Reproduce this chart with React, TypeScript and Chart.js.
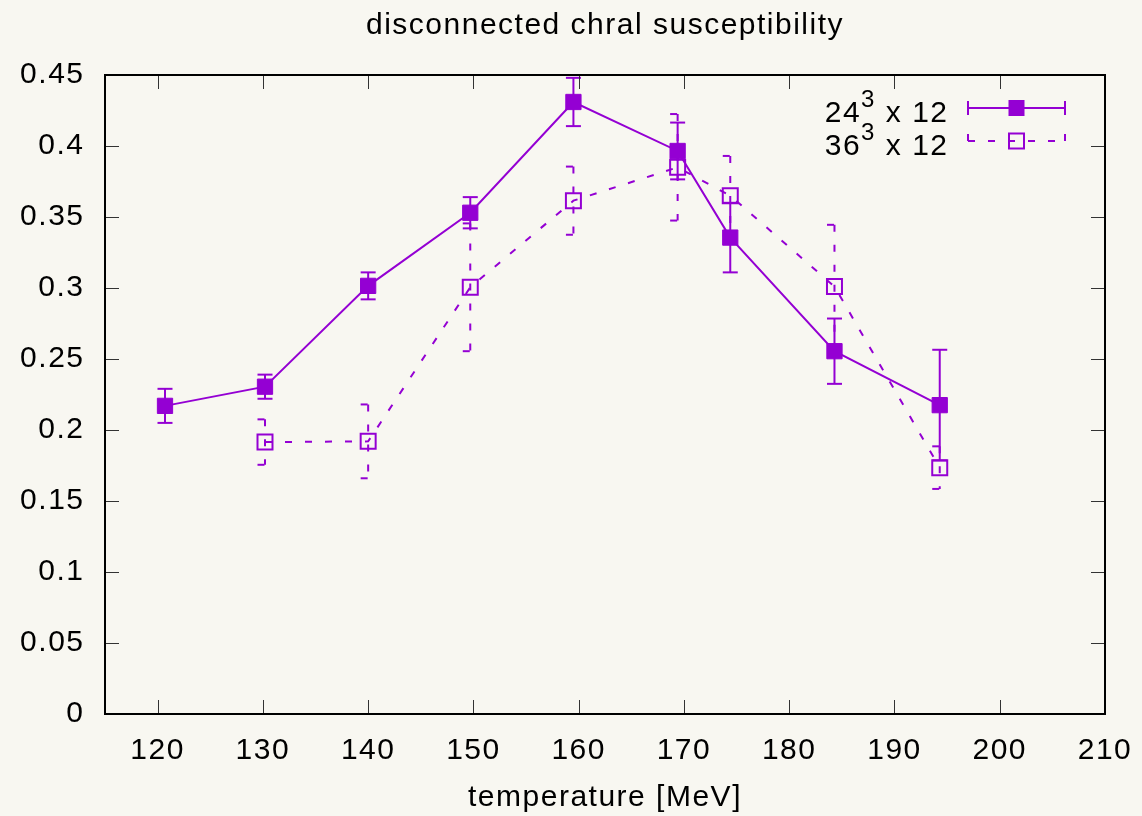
import React, { useEffect, useRef } from 'react';
import { Chart, registerables } from 'chart.js';

Chart.register(...registerables);

const PURPLE = '#9400d3';
const BG = '#f8f7f1';
const FONT = '"Liberation Sans", Arial, Helvetica, sans-serif';
const FONT_SIZE = 30;
const LETTER_SPACING = '1.5px';

const TITLE = 'disconnected chral susceptibility';
const X_LABEL = 'temperature [MeV]';

// 24^3 x 12 lattice
const temps24 = [120.7, 130.2, 140.0, 149.7, 159.5, 169.4, 174.4, 184.3, 194.3];
const chi24 = [0.217, 0.2305, 0.3015, 0.353, 0.431, 0.3965, 0.3355, 0.2555, 0.2175];
const err24 = [0.012, 0.0085, 0.0095, 0.011, 0.017, 0.020, 0.0245, 0.023, 0.039];

// 36^3 x 12 lattice
const temps36 = [130.2, 140.0, 149.7, 159.5, 169.4, 174.4, 184.3, 194.3];
const chi36 = [0.1915, 0.192, 0.3005, 0.3615, 0.385, 0.365, 0.301, 0.1735];
const err36 = [0.016, 0.026, 0.045, 0.024, 0.0375, 0.028, 0.0435, 0.015];

const xTicks = [120, 130, 140, 150, 160, 170, 180, 190, 200, 210];
const xTickLabels = ['120', '130', '140', '150', '160', '170', '180', '190', '200', '210'];
const yTicks = [0, 0.05, 0.1, 0.15, 0.2, 0.25, 0.3, 0.35, 0.4, 0.45];
const yTickLabels = ['0', '0.05', '0.1', '0.15', '0.2', '0.25', '0.3', '0.35', '0.4', '0.45'];

const legendEntries = [
  { base: '24', sup: '3', rest: ' x 12', dash: [] as number[], filled: true },
  { base: '36', sup: '3', rest: ' x 12', dash: [7, 13], filled: false },
];

const DASH = [7, 13];
const CAP = 7.5;

function seg(ctx: CanvasRenderingContext2D, x1: number, y1: number, x2: number, y2: number) {
  ctx.beginPath();
  ctx.moveTo(x1, y1);
  ctx.lineTo(x2, y2);
  ctx.stroke();
}

const bgPlugin = {
  id: 'bgFill',
  beforeLayout(chart: any) {
    chart.ctx.letterSpacing = LETTER_SPACING;
  },
  beforeDraw(chart: any) {
    const ctx = chart.ctx;
    ctx.letterSpacing = LETTER_SPACING;
    ctx.save();
    ctx.fillStyle = BG;
    ctx.fillRect(0, 0, chart.width, chart.height);
    ctx.restore();
  },
};

const errorBarPlugin = {
  id: 'errorBars',
  beforeDatasetsDraw(chart: any) {
    const { ctx } = chart;
    const xs = chart.scales.x;
    const ys = chart.scales.y;
    const series = [
      { t: temps24, v: chi24, e: err24, dash: [] as number[] },
      { t: temps36, v: chi36, e: err36, dash: DASH },
    ];
    ctx.save();
    ctx.strokeStyle = PURPLE;
    ctx.lineWidth = 2;
    for (const s of series) {
      ctx.setLineDash(s.dash);
      s.t.forEach((t, i) => {
        const px = xs.getPixelForValue(t);
        const yHi = ys.getPixelForValue(s.v[i] + s.e[i]);
        const yLo = ys.getPixelForValue(s.v[i] - s.e[i]);
        seg(ctx, px, yHi, px, yLo);
        seg(ctx, px - CAP, yLo, px + CAP, yLo);
        seg(ctx, px - CAP, yHi, px + CAP, yHi);
      });
    }
    ctx.restore();
  },
};

const framePlugin = {
  id: 'frameTicks',
  afterDraw(chart: any) {
    const { ctx, chartArea } = chart;
    const { left, right, top, bottom } = chartArea;
    const xs = chart.scales.x;
    const ys = chart.scales.y;
    const TL = 14;
    ctx.save();
    ctx.strokeStyle = '#333';
    ctx.lineWidth = 1;
    ctx.setLineDash([]);
    for (const v of xTicks) {
      const px = Math.round(xs.getPixelForValue(v)) + 0.5;
      seg(ctx, px, bottom, px, bottom - TL);
      seg(ctx, px, top, px, top + TL);
    }
    for (const v of yTicks) {
      const py = Math.round(ys.getPixelForValue(v)) + 0.5;
      seg(ctx, left, py, left + TL, py);
      seg(ctx, right, py, right - TL, py);
    }
    ctx.strokeStyle = '#000';
    ctx.lineWidth = 2;
    ctx.strokeRect(left, top, right - left, bottom - top);

    // legend
    const sampleL = right - 137;
    const sampleR = right - 40;
    const sampleC = (sampleL + sampleR) / 2;
    const textRight = right - 158;
    legendEntries.forEach((en, k) => {
      const cy = top + 33 + k * 33;
      ctx.fillStyle = '#000';
      ctx.textBaseline = 'alphabetic';
      ctx.textAlign = 'left';
      const mainFont = `${FONT_SIZE}px ${FONT}`;
      const supFont = `${Math.round(FONT_SIZE * 0.8)}px ${FONT}`;
      ctx.font = mainFont;
      const w1 = ctx.measureText(en.base).width;
      const w3 = ctx.measureText(en.rest).width;
      ctx.font = supFont;
      const w2 = ctx.measureText(en.sup).width;
      const total = w1 + w2 + w3;
      let x0 = textRight + 1.5 - total;
      const base = cy + 14;
      ctx.font = mainFont;
      ctx.fillText(en.base, x0, base);
      x0 += w1;
      ctx.font = supFont;
      ctx.fillText(en.sup, x0, base - 15);
      x0 += w2;
      ctx.font = mainFont;
      ctx.fillText(en.rest, x0, base);

      ctx.strokeStyle = PURPLE;
      ctx.lineWidth = 2;
      ctx.setLineDash(en.dash);
      seg(ctx, sampleL, cy, sampleR, cy);
      seg(ctx, sampleL, cy - 7, sampleL, cy + 7);
      seg(ctx, sampleR, cy - 7, sampleR, cy + 7);
      ctx.setLineDash([]);
      if (en.filled) {
        ctx.fillStyle = PURPLE;
        ctx.fillRect(sampleC - 8, cy - 8, 16, 16);
      } else {
        ctx.strokeRect(sampleC - 7.5, cy - 7.5, 15, 15);
      }
    });
    ctx.restore();
  },
};

export default function App() {
  const canvasRef = useRef<HTMLCanvasElement | null>(null);

  useEffect(() => {
    const canvas = canvasRef.current;
    if (!canvas) return;
    const chart = new Chart(canvas, {
      type: 'line',
      data: {
        datasets: [
          {
            label: '24^3 x 12',
            data: temps24.map((x, i) => ({ x, y: chi24[i] })),
            borderColor: PURPLE,
            backgroundColor: PURPLE,
            borderWidth: 2,
            tension: 0,
            fill: false,
            pointStyle: 'rect',
            pointRadius: 10.8,
            pointHoverRadius: 10.8,
            pointBorderWidth: 1,
            pointBackgroundColor: PURPLE,
            pointBorderColor: PURPLE,
          },
          {
            label: '36^3 x 12',
            data: temps36.map((x, i) => ({ x, y: chi36[i] })),
            borderColor: PURPLE,
            backgroundColor: 'rgba(0,0,0,0)',
            borderWidth: 2,
            borderDash: DASH,
            tension: 0,
            fill: false,
            pointStyle: 'rect',
            pointRadius: 10.6,
            pointHoverRadius: 10.6,
            pointBorderWidth: 2,
            pointBackgroundColor: 'rgba(0,0,0,0)',
            pointBorderColor: PURPLE,
          },
        ],
      },
      options: {
        responsive: false,
        animation: false,
        devicePixelRatio: 1,
        events: [],
        layout: { padding: { left: 0, right: 37, top: 0, bottom: 0 } },
        plugins: {
          legend: { display: false },
          tooltip: { enabled: false },
          title: {
            display: true,
            text: TITLE,
            fullSize: false,
            color: '#000',
            font: { family: FONT, size: FONT_SIZE, weight: 'normal' },
            padding: { top: 7.6, bottom: 31.4 },
          },
        },
        scales: {
          x: {
            type: 'linear',
            min: 115,
            max: 210,
            afterBuildTicks: (scale: any) => {
              scale.ticks = xTicks.map((v) => ({ value: v }));
            },
            afterFit: (scale: any) => {
              scale.height = 102;
              scale.paddingLeft = 0;
              scale.paddingRight = 0;
            },
            grid: { display: false, drawTicks: false, tickLength: 0 },
            border: { display: false },
            ticks: {
              color: '#000',
              padding: 19,
              maxRotation: 0,
              autoSkip: false,
              font: { family: FONT, size: FONT_SIZE },
              callback: (_v: any, i: number) => xTickLabels[i],
            },
            title: {
              display: true,
              text: X_LABEL,
              color: '#000',
              font: { family: FONT, size: FONT_SIZE },
              padding: { top: 0, bottom: 0 },
            },
          },
          y: {
            type: 'linear',
            min: 0,
            max: 0.45,
            afterBuildTicks: (scale: any) => {
              scale.ticks = yTicks.map((v) => ({ value: v }));
            },
            afterFit: (scale: any) => {
              scale.width = 105;
              scale.paddingTop = 0;
              scale.paddingBottom = 0;
            },
            grid: { display: false, drawTicks: false, tickLength: 0 },
            border: { display: false },
            ticks: {
              color: '#000',
              padding: 20.5,
              autoSkip: false,
              font: { family: FONT, size: FONT_SIZE },
              callback: (_v: any, i: number) => yTickLabels[i],
            },
          },
        },
      },
      plugins: [bgPlugin, errorBarPlugin, framePlugin],
    });
    return () => chart.destroy();
  }, []);

  return (
    <div style={{ position: 'fixed', left: 0, top: 0, width: 1142, height: 816, background: BG }}>
      <canvas ref={canvasRef} width={1142} height={816} style={{ width: 1142, height: 816, display: 'block' }} />
    </div>
  );
}
